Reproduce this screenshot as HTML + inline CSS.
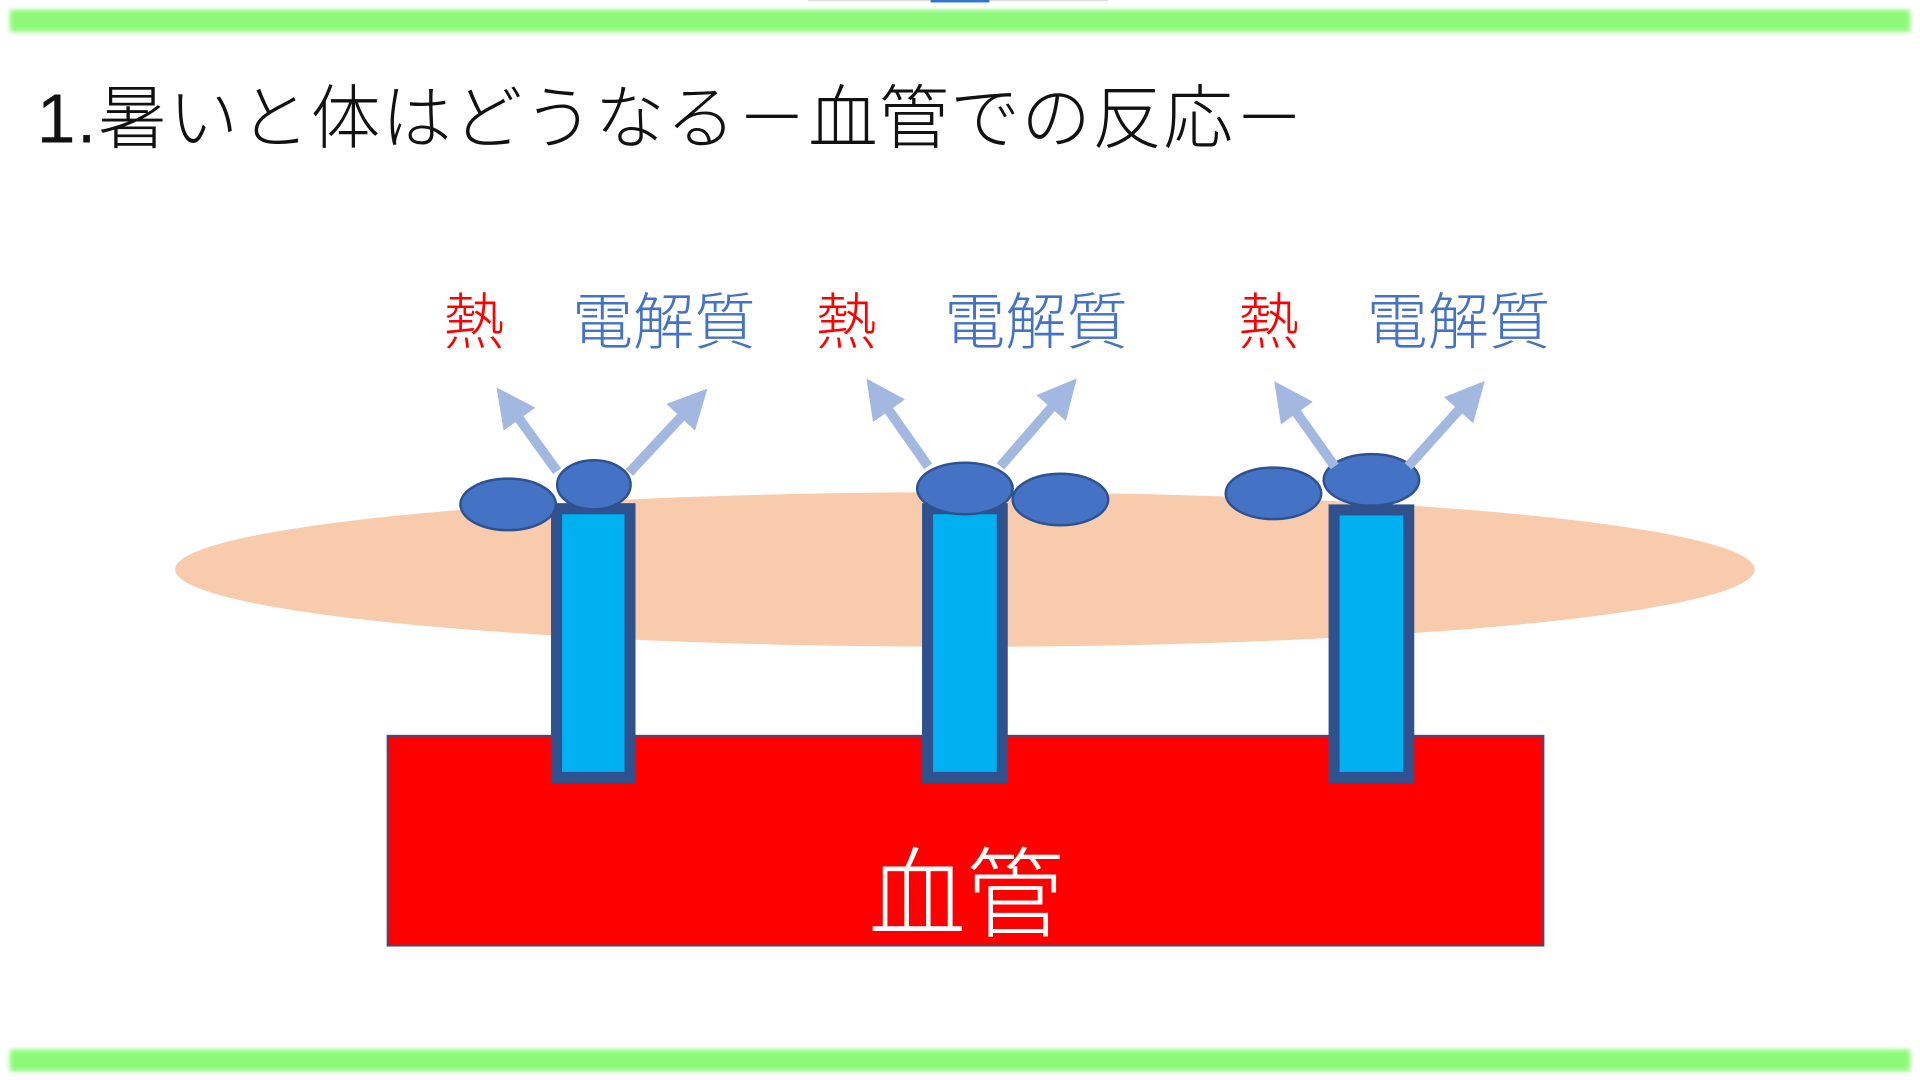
<!DOCTYPE html>
<html><head><meta charset="utf-8"><style>html,body{margin:0;padding:0;background:#fff;width:1920px;height:1080px;overflow:hidden}</style></head>
<body>
<svg width="1920" height="1080" viewBox="0 0 1568 880" preserveAspectRatio="none" xmlns="http://www.w3.org/2000/svg" style="display:block">
<defs>
<filter id="b"><feGaussianBlur stdDeviation="2"/></filter>
<marker id="ah" viewBox="0 0 10 10" refX="6" refY="5" markerWidth="4" markerHeight="4" orient="auto"><path d="M0,0 L10,5 L0,10 Z" fill="#A3B8E0"/></marker>
</defs>
<rect x="8" y="8" width="1552" height="18" fill="#8CFA78" filter="url(#b)"/>
<rect x="8" y="855" width="1552" height="18" fill="#8CFA78" filter="url(#b)"/>
<rect x="660" y="0" width="245" height="1" fill="#ddd"/>
<rect x="760" y="0" width="48" height="2" fill="#2E75D6"/>
<text x="30" y="116" textLength="1035" lengthAdjust="spacing" font-family="'Liberation Sans','Noto Sans CJK JP',sans-serif" font-weight="300" font-size="57" fill="#111">1.暑いと体はどうなる－血管での反応－</text>
<ellipse cx="788" cy="464" rx="645" ry="63" fill="#F8CBAD"/>
<rect x="316.5" y="599.5" width="944" height="171" fill="#FF0000" stroke="#2F528F" stroke-width="1.5"/>
<g fill="#00B0F0" stroke="#2F528F" stroke-width="9">
<rect x="454.5" y="414.5" width="60" height="219"/>
<rect x="757.5" y="414.5" width="61" height="219"/>
<rect x="1089.5" y="415.5" width="61" height="218"/>
</g>
<g fill="#4472C4" stroke="#2F528F" stroke-width="2">
<ellipse cx="415" cy="411" rx="39" ry="21"/>
<ellipse cx="485" cy="395" rx="30" ry="20"/>
<ellipse cx="788" cy="398" rx="39" ry="21"/>
<ellipse cx="866" cy="407" rx="39" ry="21"/>
<ellipse cx="1040" cy="402" rx="39" ry="21"/>
<ellipse cx="1120" cy="391" rx="39" ry="21"/>
</g>
<g stroke="#A3B8E0" stroke-width="8" marker-end="url(#ah)">
<line x1="455" y1="384" x2="413" y2="326"/>
<line x1="514" y1="385" x2="569" y2="326"/>
<line x1="758" y1="380" x2="715" y2="319"/>
<line x1="817" y1="380" x2="871" y2="318"/>
<line x1="1090" y1="380" x2="1048" y2="321"/>
<line x1="1150" y1="380" x2="1204" y2="320"/>
</g>
<g font-family="'Liberation Sans','Noto Sans CJK JP',sans-serif" font-weight="300" font-size="50">
<text x="362" y="280" fill="#FF0000">熱</text>
<text x="467" y="280" fill="#4472C4">電解質</text>
<text x="666" y="280" fill="#FF0000">熱</text>
<text x="771" y="280" fill="#4472C4">電解質</text>
<text x="1011" y="280" fill="#FF0000">熱</text>
<text x="1116" y="280" fill="#4472C4">電解質</text>
</g>
<text x="789" y="757" text-anchor="middle" font-family="'Liberation Sans','Noto Sans CJK JP',sans-serif" font-weight="300" font-size="80" fill="#fff">血管</text>
</svg>
</body></html>
